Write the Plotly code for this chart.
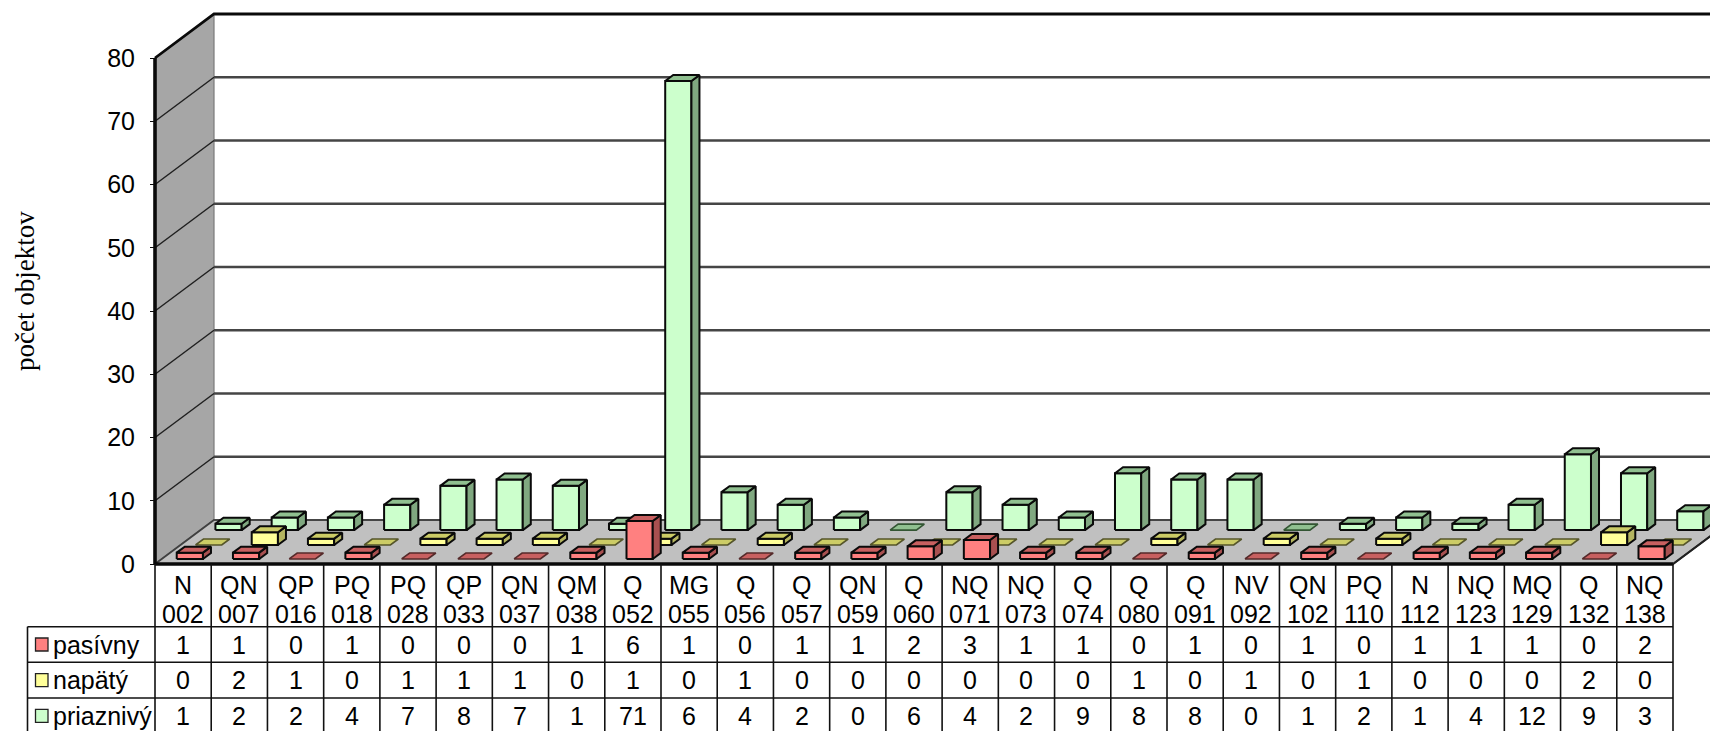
import plotly.graph_objects as go

# ---- data ----
group_codes = ["N", "QN", "QP", "PQ", "PQ", "QP", "QN", "QM", "Q", "MG", "Q", "Q", "QN", "Q",
               "NQ", "NQ", "Q", "Q", "Q", "NV", "QN", "PQ", "N", "NQ", "MQ", "Q", "NQ"]
object_ids = ["002", "007", "016", "018", "028", "033", "037", "038", "052", "055", "056", "057", "059", "060",
              "071", "073", "074", "080", "091", "092", "102", "110", "112", "123", "129", "132", "138"]
pasivny = [1, 1, 0, 1, 0, 0, 0, 1, 6, 1, 0, 1, 1, 2, 3, 1, 1, 0, 1, 0, 1, 0, 1, 1, 1, 0, 2]
napaty = [0, 2, 1, 0, 1, 1, 1, 0, 1, 0, 1, 0, 0, 0, 0, 0, 0, 1, 0, 1, 0, 1, 0, 0, 0, 2, 0]
priaznivy = [1, 2, 2, 4, 7, 8, 7, 1, 71, 6, 4, 2, 0, 6, 4, 2, 9, 8, 8, 0, 1, 2, 1, 4, 12, 9, 3]
series_names = ["pasívny", "napätý", "priaznivý"]
y_ticks = [0, 10, 20, 30, 40, 50, 60, 70, 80]
y_title = "počet objektov"

# ---- page geometry (pixels) ----
W, H = 1710, 731
LEFT, RIGHT, BASE, TOP80 = 155.0, 1673.0, 564.0, 58.0
DEPTH_PX_X, DEPTH_PX_Y = 59.0, 44.0
N = len(object_ids)
CAT_PX = (RIGHT - LEFT) / N
VAL_PX = (BASE - TOP80) / 80.0
DX = DEPTH_PX_X / CAT_PX      # depth shift in category units
DY = DEPTH_PX_Y / VAL_PX      # depth shift in value units
BAR_GAP = 15.0 / CAT_PX
BAR_DEPTH = 0.136
SLOT = {0: 0.182, 1: 0.5, 2: 0.838}

FONT = "Liberation Sans, Arial, sans-serif"
FS = 25
INK = "#0a0a0a"


def px_(c, d, v):
    return c + d * DX, v + d * DY


def poly(points):
    xs, ys = zip(*[px_(*p) for p in points])
    return list(xs) + [xs[0], None], list(ys) + [ys[0], None]


def add_faces(fig, faces, fill, line=INK, width=2.0):
    xs, ys = [], []
    for f in faces:
        a, b = poly(f)
        xs += a
        ys += b
    fig.add_trace(go.Scatter(x=xs, y=ys, mode="lines", fill="toself", fillcolor=fill,
                             line=dict(color=line, width=width), hoverinfo="skip", showlegend=False))


def add_line(fig, pts, color=INK, width=1.5):
    xs, ys = zip(*[px_(*p) for p in pts])
    fig.add_trace(go.Scatter(x=list(xs), y=list(ys), mode="lines", line=dict(color=color, width=width),
                             hoverinfo="skip", showlegend=False))


fig = go.Figure()

# walls and floor
add_faces(fig, [[(0, 0, 0), (0, 1, 0), (0, 1, 80), (0, 0, 80)]], "#a6a6a6", line="#7a7a7a", width=1.2)
add_faces(fig, [[(0, 0, 0), (N, 0, 0), (N, 1, 0), (0, 1, 0)]], "#c0c0c0", line="#404040", width=1.8)

# gridlines
for t in y_ticks[1:-1]:
    add_line(fig, [(0, 0, t), (0, 1, t)], color="#202020", width=1.5)
    add_line(fig, [(0, 1, t), (N + 2, 1, t)], color="#454545", width=2.4)
add_line(fig, [(0, 1, 0), (N + 2, 1, 0)], color="#454545", width=2.2)
add_line(fig, [(0, 0, 80), (0, 1, 80), (N + 2, 1, 80)], color=INK, width=2.8)

# bars, back row first
styles = [
    (priaznivy, 2, "#ccffcc", "#90c090", "#80a880", "#335533"),
    (napaty, 1, "#ffff99", "#cccc66", "#b5b560", "#55552a"),
    (pasivny, 0, "#ff8080", "#c86060", "#a85050", "#552a2a"),
]
for values, row, front, top, side, flat_edge in styles:
    d0 = SLOT[row] - BAR_DEPTH / 2
    d1 = d0 + BAR_DEPTH
    fronts, tops, sides, flats = [], [], [], []
    for i, v in enumerate(values):
        c0, c1 = i + BAR_GAP, i + 1 - BAR_GAP
        face = [(c0, d0, v), (c1, d0, v), (c1, d1, v), (c0, d1, v)]
        if v > 0:
            fronts.append([(c0, d0, 0), (c1, d0, 0), (c1, d0, v), (c0, d0, v)])
            sides.append([(c1, d0, 0), (c1, d1, 0), (c1, d1, v), (c1, d0, v)])
            tops.append(face)
        else:
            flats.append(face)
    add_faces(fig, flats, top, line=flat_edge, width=1.6)
    add_faces(fig, fronts, front)
    add_faces(fig, sides, side)
    add_faces(fig, tops, top)

# heavy front axis lines
add_line(fig, [(0, 0, 0), (0, 0, 80)], width=3.6)
add_line(fig, [(0, 0, 0), (N, 0, 0)], width=3.6)
add_line(fig, [(N, 0, 0), (N, 1, 0)], color="#202020", width=2.0)

# ---- data table ----
shapes, annotations = [], []
ROW_Y = [626.7, 662.3, 698.0, 733.7]
LEG_LEFT = 27.5


def yp(p):
    return 1 - p / H


def xp(p):
    return p / W


def hline(x0, x1, y):
    shapes.append(dict(type="line", xref="paper", yref="paper", x0=xp(x0), x1=xp(x1), y0=yp(y), y1=yp(y),
                       line=dict(color="#111111", width=1.6)))


def vline(x, y0, y1):
    shapes.append(dict(type="line", xref="paper", yref="paper", x0=xp(x), x1=xp(x), y0=yp(y0), y1=yp(y1),
                       line=dict(color="#111111", width=1.6)))


for y in ROW_Y:
    hline(LEG_LEFT, RIGHT, y)
vline(LEG_LEFT, ROW_Y[0], ROW_Y[-1])
for i in range(N + 1):
    vline(LEFT + i * CAT_PX, BASE, ROW_Y[-1])


def txt(x, y, s, anchor="center", size=FS):
    annotations.append(dict(xref="paper", yref="paper", x=xp(x), y=yp(y), text=s, showarrow=False, xanchor=anchor,
                            yanchor="middle", font=dict(family=FONT, size=size, color="#000000")))


for i in range(N):
    cx = LEFT + (i + 0.5) * CAT_PX
    txt(cx, 585, group_codes[i])
    txt(cx, 614, object_ids[i])
    for r, vals in enumerate([pasivny, napaty, priaznivy]):
        txt(cx, (ROW_Y[r] + ROW_Y[r + 1]) / 2, str(vals[i]))

key_colors = ["#ff8080", "#ffff99", "#ccffcc"]
for r, (name, col) in enumerate(zip(series_names, key_colors)):
    ym = (ROW_Y[r] + ROW_Y[r + 1]) / 2
    shapes.append(dict(type="rect", xref="paper", yref="paper", x0=xp(35.5), x1=xp(48), y0=yp(ym - 6.5), y1=yp(ym + 6.5),
                       fillcolor=col, line=dict(color="#222222", width=1.3)))
    txt(51, ym, name, anchor="left")

annotations.append(dict(xref="paper", yref="paper", x=xp(25), y=yp(291), text=y_title, textangle=-90, showarrow=False,
                        xanchor="center", yanchor="middle",
                        font=dict(family="Liberation Serif, Times New Roman, serif", size=27, color="#000000")))

fig.update_layout(
    width=W, height=H, margin=dict(l=0, r=0, t=0, b=0), paper_bgcolor="white", plot_bgcolor="white",
    showlegend=False, shapes=shapes, annotations=annotations,
    xaxis=dict(range=[-LEFT / CAT_PX, (W - LEFT) / CAT_PX], visible=False, fixedrange=True),
    yaxis=dict(range=[(BASE - H) / VAL_PX, BASE / VAL_PX], anchor="free", position=LEFT / W, tickmode="array",
               tickvals=y_ticks, ticks="outside", ticklen=5, tickwidth=1.4, tickcolor=INK, showgrid=False,
               zeroline=False, showline=False, ticklabelstandoff=10, fixedrange=True,
               tickfont=dict(family=FONT, size=FS, color="#000000")),
)

fig.write_html("out.html", config={"displayModeBar": False},
               post_script="document.body.style.margin='0';document.documentElement.style.overflow='hidden';")
